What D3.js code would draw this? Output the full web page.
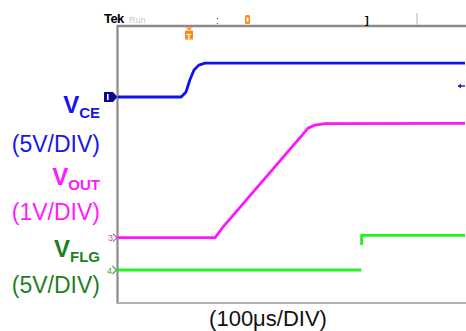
<!DOCTYPE html>
<html>
<head>
<meta charset="utf-8">
<script src="https://cdn.jsdelivr.net/npm/d3@7"></script>
<style>
  html, body { margin: 0; padding: 0; background: #fff; }
  svg { display: block; font-family: "Liberation Sans", Arial, sans-serif; }
</style>
</head>
<body>
<svg id="chart" width="466" height="331"></svg>
<script>
// ---- data (time in µs, values in volts) ----
const timeDomain = [0, 1000];          // 100 µs/DIV, 10 divisions
const divisions = [0, 8];               // vertical divisions

const vceTimes  = [0, 182, 196, 207, 219, 233, 251, 1000];
const vceValues = [0, 0, 0.72, 2.45, 3.9, 4.6, 4.9, 4.9];

const voutTimes  = [0, 280, 300, 548, 568, 597, 1000];
const voutValues = [0, 0, 0.27, 3.16, 3.25, 3.29, 3.3];

const vflgLowTimes   = [0, 701];
const vflgLowValues  = [0, 0];
const vflgHighTimes  = [702, 702, 1000];
const vflgHighValues = [3.6, 5.0, 5.0];

const channelNames = ["VCE", "VOUT", "VFLG"];
const channelScales = ["(5V/DIV)", "(1V/DIV)", "(5V/DIV)"];
const voltsPerDiv = [5, 1, 5];
const groundDiv = [5.95, 1.89, 0.953];
const timeLabel = "(100μs/DIV)";

// ---- layout ----
const svg = d3.select("#chart");
const x = d3.scaleLinear().domain(timeDomain).range([118, 465]);
const yd = d3.scaleLinear().domain(divisions).range([303, 26]);
const yCh = (i) => (v) => yd(groundDiv[i] + v / voltsPerDiv[i]);

const traceColors = ["#1212f0", "#ff14ff", "#22f022"];
const labelColors = ["#1616e8", "#ff1aff", "#1f7f1f"];

// frame
svg.append("line").attr("x1", 117).attr("x2", 466).attr("y1", 26).attr("y2", 26)
  .attr("stroke", "#8a8a8a").attr("stroke-width", 2.4);
svg.append("line").attr("x1", 117.5).attr("x2", 117.5).attr("y1", 25).attr("y2", 304)
  .attr("stroke", "#8a8a8a").attr("stroke-width", 2.2);
svg.append("line").attr("x1", 117).attr("x2", 466).attr("y1", 303).attr("y2", 303)
  .attr("stroke", "#b0b0b0").attr("stroke-width", 2);

// top status bar
svg.append("text").attr("x", 104).attr("y", 23).attr("font-size", 13).attr("font-weight", "bold")
  .attr("letter-spacing", -0.6).attr("fill", "#000").text("Tek");
svg.append("text").attr("x", 129).attr("y", 23).attr("font-size", 9)
  .attr("fill", "#c8c8c8").text("Run");
svg.append("text").attr("x", 216).attr("y", 24).attr("font-size", 10)
  .attr("fill", "#333").text(":");
svg.append("text").attr("x", 365).attr("y", 24).attr("font-size", 11).attr("font-weight", "bold")
  .attr("fill", "#000").text("]");
svg.append("line").attr("x1", 417).attr("x2", 417).attr("y1", 13).attr("y2", 25)
  .attr("stroke", "#c0c0c0").attr("stroke-width", 1.2);
// orange position marker
svg.append("rect").attr("x", 245).attr("y", 15).attr("width", 5).attr("height", 9).attr("rx", 1.5)
  .attr("fill", "#ff8a1a");
svg.append("rect").attr("x", 246.6).attr("y", 17.5).attr("width", 1.8).attr("height", 4)
  .attr("fill", "#fff");
// orange trigger "T" marker
svg.append("path").attr("d", "M185.5,27.5 L192.5,27.5 L189,30.5 Z").attr("fill", "#ff8a1a");
svg.append("rect").attr("x", 185).attr("y", 30.5).attr("width", 8).attr("height", 9).attr("fill", "#ff8a1a");
svg.append("text").attr("x", 189).attr("y", 38.5).attr("text-anchor", "middle").attr("font-size", 8)
  .attr("font-weight", "bold").attr("fill", "#fff").text("T");

// traces
const line = (i) => d3.line().x(d => x(d[0])).y(d => yCh(i)(d[1]));
const series = [
  { i: 0, pts: d3.zip(vceTimes, vceValues) },
  { i: 1, pts: d3.zip(voutTimes, voutValues) },
  { i: 2, pts: d3.zip(vflgLowTimes, vflgLowValues) },
  { i: 2, pts: d3.zip(vflgHighTimes, vflgHighValues) }
];
series.forEach(s => {
  svg.append("path").attr("d", line(s.i)(s.pts)).attr("fill", "none")
    .attr("stroke", traceColors[s.i]).attr("stroke-width", 2.8)
    .attr("stroke-linejoin", "round");
});

// channel ground markers
const g1 = yCh(0)(0);
svg.append("path").attr("d", `M104,${g1-5} L113,${g1-5} L117.5,${g1} L113,${g1+5} L104,${g1+5} Z`)
  .attr("fill", "#0a0a8a");
svg.append("rect").attr("x", 107).attr("y", g1 - 3).attr("width", 1.6).attr("height", 6).attr("fill", "#fff");

const g3 = yCh(1)(0);
svg.append("text").attr("x", 108).attr("y", g3 + 3.5).attr("font-size", 9).attr("fill", "#b84cb8").text("3");
svg.append("path").attr("d", `M113,${g3-4} L117,${g3} L113,${g3+4}`).attr("fill", "none")
  .attr("stroke", "#b84cb8").attr("stroke-width", 1.1);

const g4 = yCh(2)(0);
svg.append("text").attr("x", 107).attr("y", g4 + 3.5).attr("font-size", 9).attr("fill", "#33aa33").text("4");
svg.append("path").attr("d", `M112.5,${g4-4} L116.5,${g4} L112.5,${g4+4}`).attr("fill", "none")
  .attr("stroke", "#33aa33").attr("stroke-width", 1.1);

// small blue arrow at right
const ya = 86;
svg.append("path").attr("d", `M458,${ya} L465,${ya}`).attr("stroke", "#2020a0").attr("stroke-width", 1.4);
svg.append("path").attr("d", `M461,${ya-2.5} L458,${ya} L461,${ya+2.5} Z`).attr("fill", "#2020a0");

// channel labels
const nameBase = [113, 185, 257];
const scaleBase = [152, 220, 293];
channelNames.forEach((n, i) => {
  const t = svg.append("text").attr("x", 100).attr("y", nameBase[i]).attr("text-anchor", "end")
    .attr("font-weight", "bold").attr("fill", labelColors[i]);
  t.append("tspan").attr("font-size", 24).text(n[0]);
  t.append("tspan").attr("font-size", 15).attr("dy", 5).text(n.slice(1));
  svg.append("text").attr("x", 100).attr("y", scaleBase[i]).attr("text-anchor", "end")
    .attr("font-size", 23).attr("fill", labelColors[i]).text(channelScales[i]);
});

// time base label
svg.append("text").attr("x", 268).attr("y", 326).attr("text-anchor", "middle")
  .attr("font-size", 22).attr("fill", "#111").text(timeLabel);
</script>
</body>
</html>
